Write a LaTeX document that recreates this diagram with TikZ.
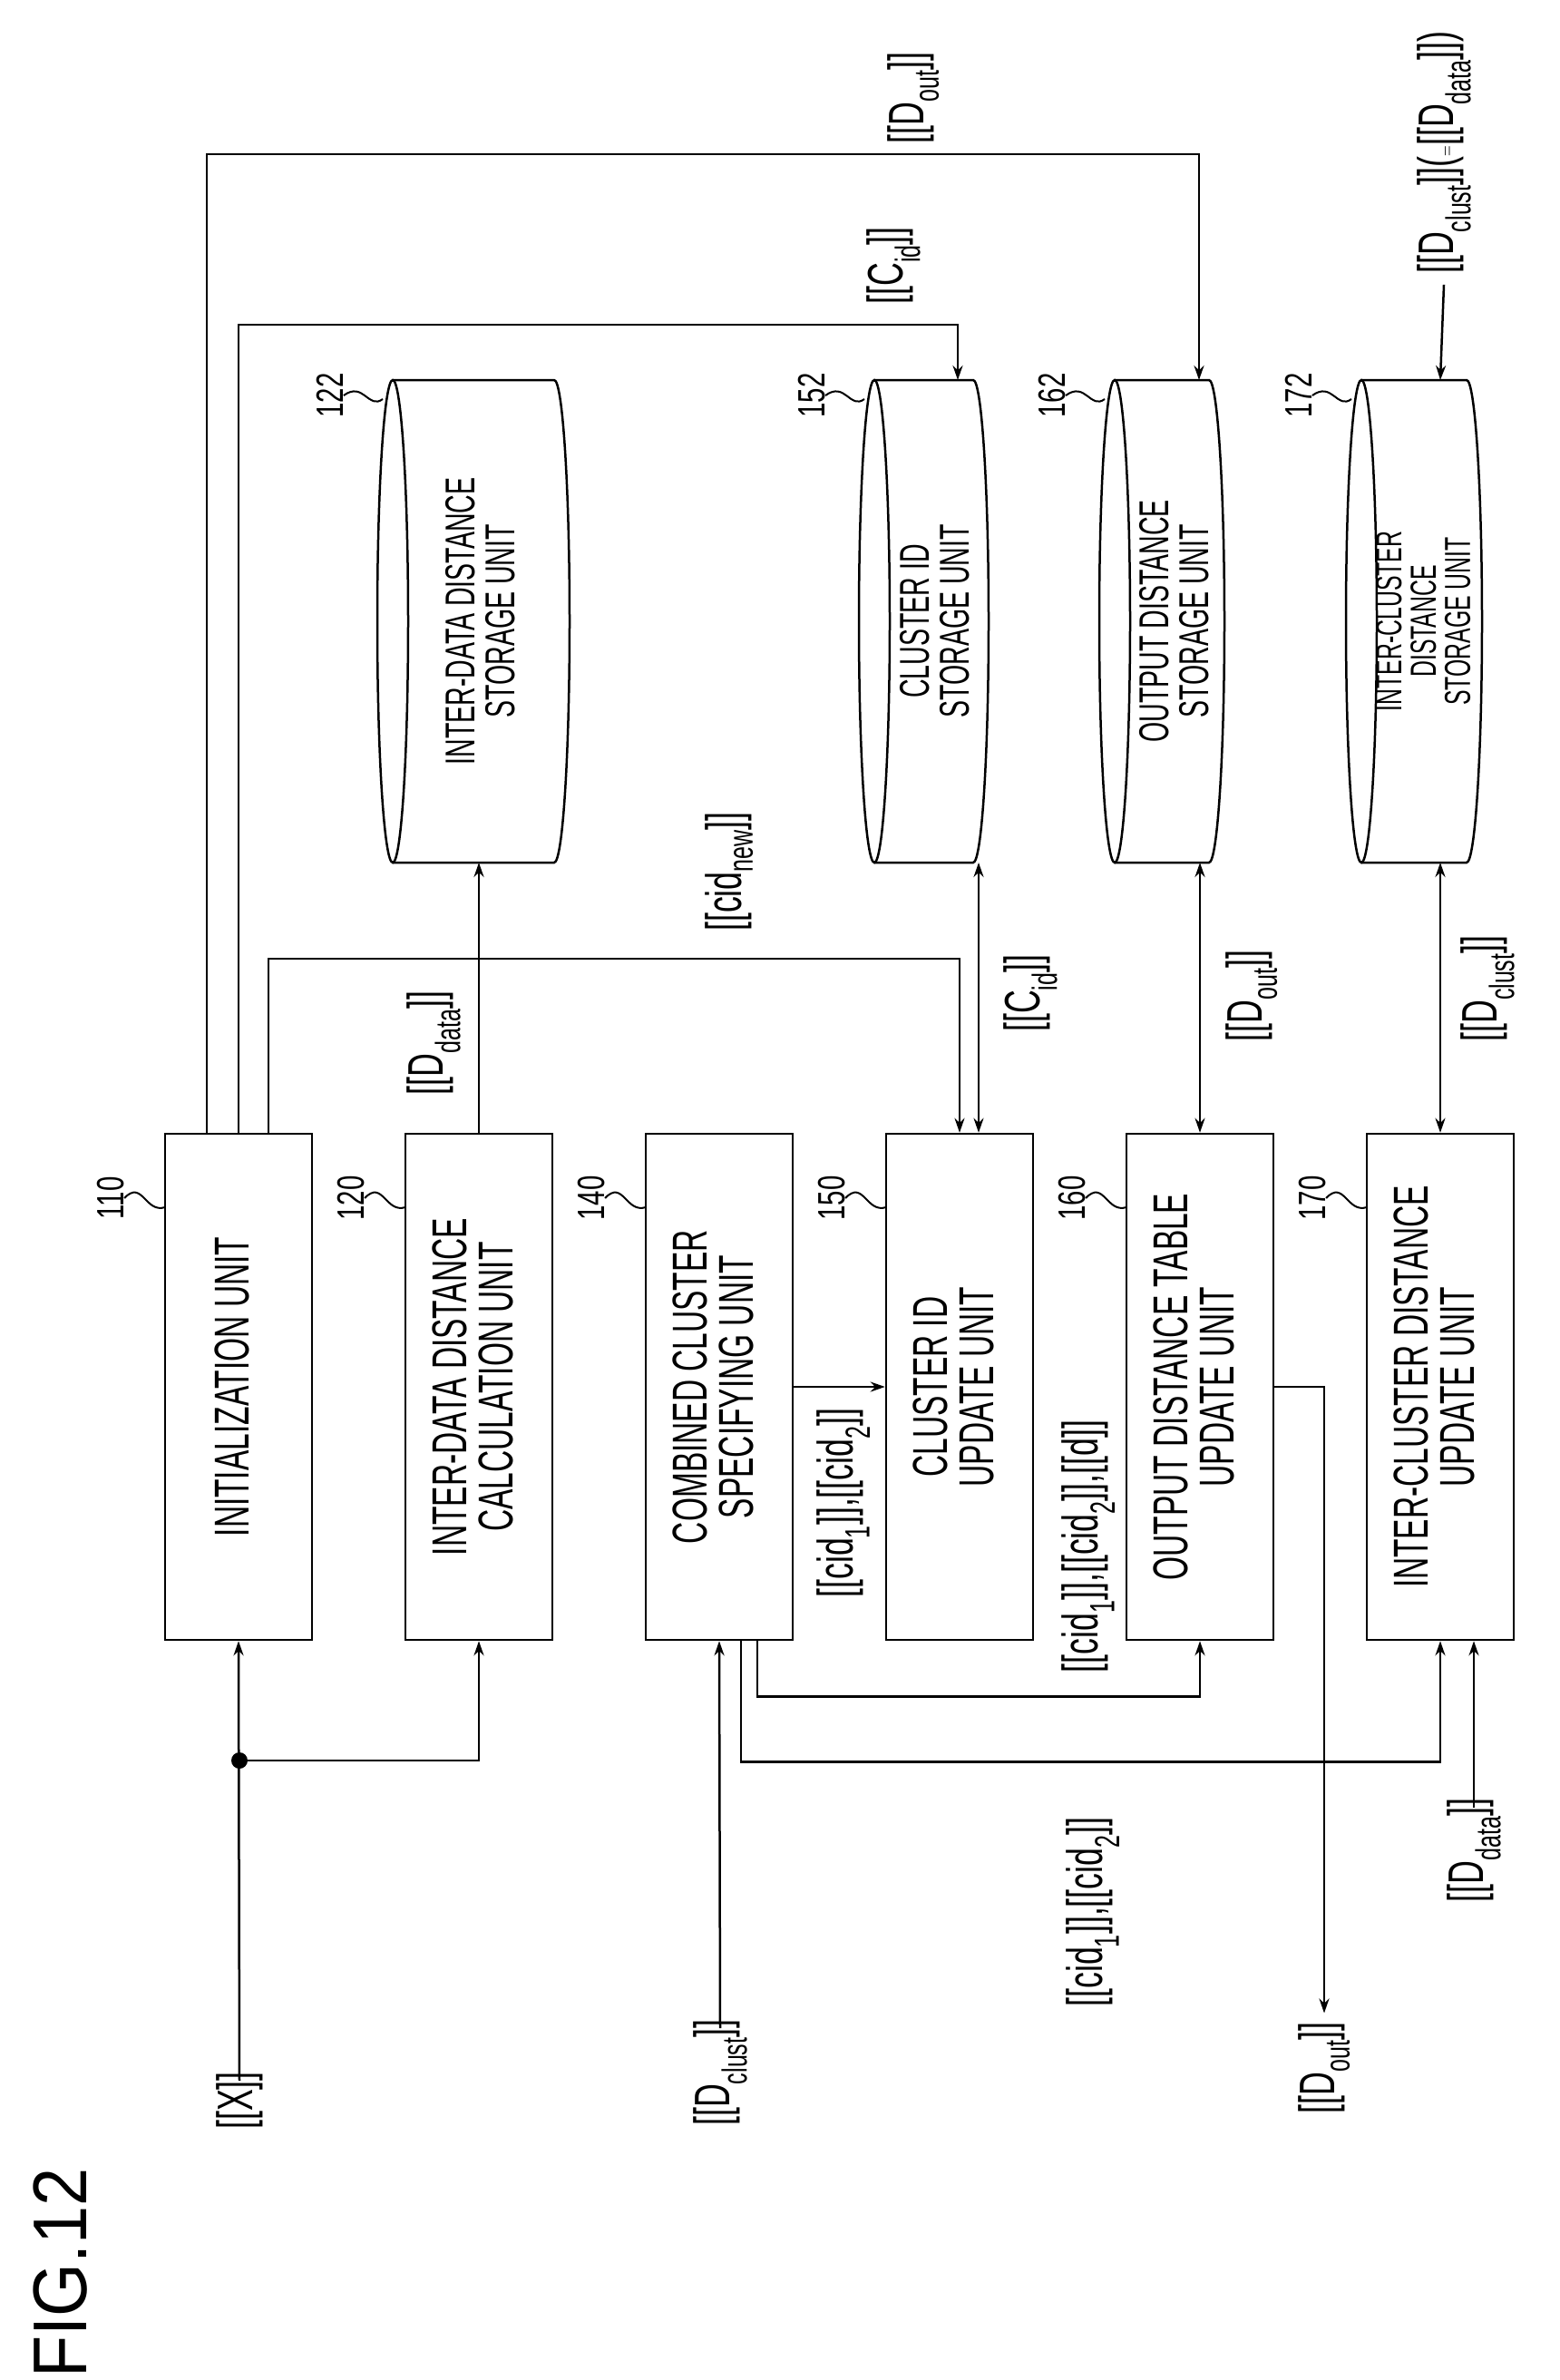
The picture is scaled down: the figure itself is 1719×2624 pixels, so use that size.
\documentclass[tikz,border=0pt]{standalone}
\usepackage{fontspec}
\setmainfont{Liberation Sans}
\usetikzlibrary{arrows.meta}
\newcommand\unittext[1]{\rotatebox{90}{\scalebox{0.62}[1]{\begin{tabular}{@{}c@{}}#1\end{tabular}}}}
\newcommand\vlab[1]{\rotatebox{90}{\scalebox{0.65}[1]{#1}}}
\newcommand\refno[1]{\rotatebox{90}{\scalebox{0.7}[1]{#1}}}
\tikzset{
  unit/.style={draw, line width=2.5pt, minimum width=162pt, minimum height=558pt, inner sep=0pt,
    font=\fontsize{54}{46}\selectfont},
  store/.style={minimum height=532pt, inner sep=0pt, font=\fontsize{46}{38}\selectfont},
  sig/.style={inner sep=0pt, font=\fontsize{55}{60}\selectfont},
  num/.style={inner sep=0pt, font=\fontsize{42}{44}\selectfont},
  link/.style={line width=2.5pt, -{Stealth[length=16pt,width=11pt]}},
  both/.style={line width=2.5pt, {Stealth[length=16pt,width=11pt]}-{Stealth[length=16pt,width=11pt]}},
  lead/.style={line width=2pt}
}
\newcommand\cylinder[2]{% #1 = left x, #2 = right x
  \draw[line width=2.5pt] (#1+17,685) ellipse[x radius=17, y radius=266];
  \draw[line width=2.5pt] (#1+17,419) -- (#2-17,419) arc[start angle=-90, end angle=90, x radius=17, y radius=266] -- (#1+17,951);
}
\begin{document}
\begin{tikzpicture}[x=1pt, y=-1pt]
  \useasboundingbox (0,0) rectangle (1719,2624);

  % units
  \node[unit] (b110) at (263,1529) {\unittext{INITIALIZATION UNIT}};
  \node[unit] (b120) at (528,1529) {\unittext{INTER-DATA DISTANCE\\CALCULATION UNIT}};
  \node[unit] (b140) at (793,1529) {\unittext{COMBINED CLUSTER\\SPECIFYING UNIT}};
  \node[unit] (b150) at (1058,1529) {\unittext{CLUSTER ID\\UPDATE UNIT}};
  \node[unit] (b160) at (1323,1529) {\unittext{OUTPUT DISTANCE TABLE\\UPDATE UNIT}};
  \node[unit] (b170) at (1588,1529) {\unittext{INTER-CLUSTER DISTANCE\\UPDATE UNIT}};

  % storage units
  \cylinder{416}{628} \cylinder{947}{1090} \cylinder{1212}{1350} \cylinder{1484}{1634}
  \node[store] (c122) at (535,685) {\unittext{INTER-DATA DISTANCE\\STORAGE UNIT}};
  \node[store] (c152) at (1036,685) {\unittext{CLUSTER ID\\STORAGE UNIT}};
  \node[store] (c162) at (1300,685) {\unittext{OUTPUT DISTANCE\\STORAGE UNIT}};
  \node[store, font=\fontsize{40}{33}\selectfont] (c172) at (1574,685) {\unittext{INTER-CLUSTER\\DISTANCE\\STORAGE UNIT}};

  % reference numerals
  \foreach \n/\x in {110/182,120/447,140/712,150/977,160/1242,170/1507}{
    \node[num] (n\n) at (\x-60,1321) {\refno{\n}};
    \draw[lead] (n\n.east) .. controls (\x-25,1300) and (\x-22,1338) .. (\x,1331);
  }
  \foreach \n/\x in {122/416,152/947,162/1212,172/1484}{
    \node[num] (n\n) at (\x-52,436) {\refno{\n}};
    \draw[lead] (n\n.east) .. controls (\x-15,420) and (\x-10,452) .. (\x+6,440);
  }

  % signals
  \node[sig] (lx) at (264,2316) {\vlab{[[X]]}};
  \node[sig] (ldc) at (794,2285) {\vlab{[[D\textsubscript{clust}]]}};
  \node[sig] (ldo) at (1460,2280) {\vlab{[[D\textsubscript{out}]]}};
  \node[sig] (ldd) at (1625,2040) {\vlab{[[D\textsubscript{data}]]}};
  \node[sig] (ltop) at (1592,168) {\vlab{[[D\textsubscript{clust}]]($=$[[D\textsubscript{data}]])}};
  \node[sig] at (1007,108) {\vlab{[[D\textsubscript{out}]]}};
  \node[sig] at (985,293) {\vlab{[[C\textsubscript{id}]]}};
  \node[sig] at (804,961) {\vlab{[[cid\textsubscript{new}]]}};
  \node[sig] at (478,1150) {\vlab{[[D\textsubscript{data}]]}};
  \node[sig] at (1136,1095) {\vlab{[[C\textsubscript{id}]]}};
  \node[sig] at (1380,1098) {\vlab{[[D\textsubscript{out}]]}};
  \node[sig] at (1640,1090) {\vlab{[[D\textsubscript{clust}]]}};
  \node[sig] at (930,1657) {\vlab{[[cid\textsubscript{1}]],[[cid\textsubscript{2}]]}};
  \node[sig] at (1200,1705) {\vlab{[[cid\textsubscript{1}]],[[cid\textsubscript{2}]],[[d]]}};
  \node[sig] at (1205,2108) {\vlab{[[cid\textsubscript{1}]],[[cid\textsubscript{2}]]}};
  \node[inner sep=0pt, font=\fontsize{84}{90}\selectfont] at (67,2506) {\rotatebox{90}{\scalebox{0.9}[1]{FIG.12}}};

  % connectors
  \coordinate (dot) at (264,1941);
  \fill (dot) circle (9);
  \draw[link] ([yshift=-10pt]lx.north) -- (b110.south);
  \draw[link] (dot) -| (b120.south);
  \draw[link] ([yshift=-10pt]ldc.north) -- (b140.south);
  \draw[link] (b140.east) -- (b150.west);
  \draw[link] ([xshift=42pt]b140.south) -- ++(0,61) -| (b160.south);
  \draw[link] ([xshift=24pt]b140.south) -- ++(0,133) -| (b170.south);
  \draw[link] (b160.east) -| ([yshift=10pt]ldo.north);
  \draw[link] ([yshift=-10pt]ldd.north) -- (ldd.north |- b170.south);
  \draw[link] ([xshift=-35pt]b110.north) |- (1322,170) -- (1322,419);
  \draw[link] (b110.north) |- (1056,358) -- (1056,419);
  \draw[link] ([xshift=33pt]b110.north) |- ([yshift=192pt]b150.north) -- (b150.north);
  \draw[link] (b120.north) -- (528,951);
  \draw[both] ([xshift=21pt]b150.north) -- (1079,951);
  \draw[both] (b160.north) -- (1323,951);
  \draw[both] (b170.north) -- (1588,951);
  \draw[link] ([yshift=-12pt]ltop.south) -- (1588,419);
\end{tikzpicture}
\end{document}
